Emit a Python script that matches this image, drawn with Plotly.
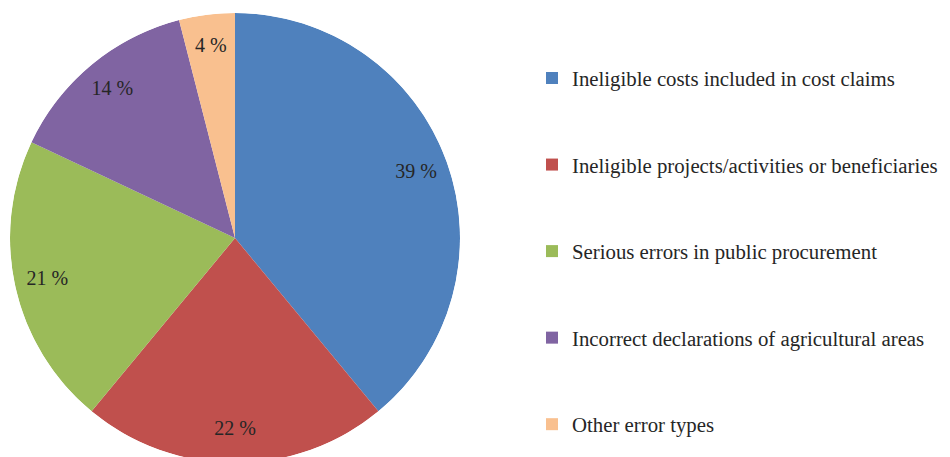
import plotly.graph_objects as go

categories = [
    "Ineligible costs included in cost claims",
    "Ineligible projects/activities or beneficiaries",
    "Serious errors in public procurement",
    "Incorrect declarations of agricultural areas",
    "Other error types",
]
values = [39, 22, 21, 14, 4]
colors = ["#4F81BD", "#C0504D", "#9BBB59", "#8064A2", "#F9C08F"]
label_texts = [f"{v} %" for v in values]

W, H = 950, 475
OFF = 8  # page body margin
FONT = "Liberation Serif"

# pie placement (pixels, in the screenshot)
cx, cy, R = 235, 238, 225
dom_x = [(cx - R - OFF) / W, (cx + R - OFF) / W]
dom_y = [(H - (cy + R - OFF)) / H, (H - (cy - R - OFF)) / H]

total = sum(values)
starts = []
cum = 0
for v in values:
    starts.append(cum)
    cum += v
mids = [(s + v / 2) / total * 360 for s, v in zip(starts, values)]
widths = [v / total * 360 for v in values]

fig = go.Figure()
for i, (c, v, col) in enumerate(zip(categories, values, colors)):
    fig.add_trace(go.Barpolar(
        r=[1], theta=[mids[i]], width=[widths[i]], name=c,
        legendgroup=f"g{i}",
        marker=dict(color=col, line=dict(width=0)),
        hovertemplate=f"{c}: {v} %<extra></extra>",
    ))

fig.add_trace(go.Scatterpolar(
    r=[0.855] * len(values), theta=mids, mode="text", text=label_texts,
    textfont=dict(family=FONT, size=20, color="#262626"),
    showlegend=False, hoverinfo="skip",
))

fig.update_layout(
    width=W, height=H, margin=dict(l=0, r=0, t=0, b=0),
    paper_bgcolor="white",
    polar=dict(
        domain=dict(x=dom_x, y=dom_y), bgcolor="rgba(0,0,0,0)", bargap=0,
        radialaxis=dict(range=[0, 1], visible=False, showgrid=False),
        angularaxis=dict(rotation=90, direction="clockwise", visible=False,
                         showgrid=False),
    ),
    showlegend=True,
    legend=dict(
        x=(532 - OFF) / W, xanchor="left", y=(H - 58 + OFF) / H, yanchor="top",
        font=dict(family=FONT, size=20.8, color="#262626"),
        tracegroupgap=56.5, itemwidth=30, bgcolor="rgba(0,0,0,0)",
    ),
)

fig.write_html("out.html")
